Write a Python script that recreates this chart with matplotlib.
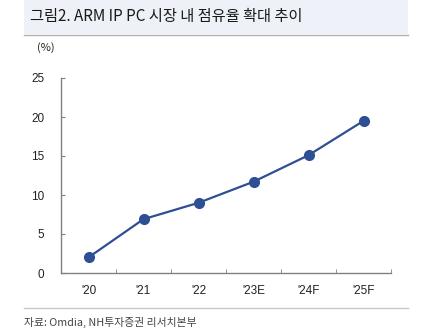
import matplotlib
matplotlib.use('Agg')
from matplotlib import pyplot as plt
from matplotlib.patches import Rectangle
from matplotlib.lines import Line2D

plt.rcParams['font.family'] = ['Noto Sans CJK KR', 'DejaVu Sans']

years = ["'20", "'21", "'22", "'23E", "'24F", "'25F"]
share = [2.0, 6.9, 9.0, 11.7, 15.1, 19.5]
yticks = [0, 5, 10, 15, 20, 25]

W, H = 429, 333
fig = plt.figure(figsize=(W / 100, H / 100), dpi=100)

# title band
fig.patches.append(Rectangle((24 / W, 1 - 34 / H), 384 / W, 34 / H, transform=fig.transFigure,
                             facecolor='#eef1f7', edgecolor='none', zorder=0))
fig.add_artist(Line2D([24 / W, 408 / W], [1 - 35 / H, 1 - 35 / H], color='#b0b0b0', lw=1))
fig.text(30 / W, 1 - 17 / H, '그림2. ARM IP PC 시장 내 점유율 확대 추이', fontsize=11,
         va='center', ha='left', color='#1a1a1a')

ax = fig.add_axes([61 / W, 1 - 273 / H, 330 / W, 195 / H])
x = list(range(len(years)))
ax.plot(x, share, color='#2f4f94', lw=1.6, marker='o', markersize=7, zorder=3)

ax.set_xlim(-0.5, len(years) - 0.5)
ax.set_ylim(0, 25)
ax.set_yticks(yticks)
ax.set_yticklabels([str(v) for v in yticks], family=['Liberation Sans', 'DejaVu Sans'], fontsize=8.5)
ax.set_xticks(x)
ax.set_xticklabels(years, family=['Liberation Sans', 'DejaVu Sans'], fontsize=8.5)
ax.set_xticks([i - 0.5 for i in range(len(years) + 1)], minor=True)
ax.tick_params(axis='x', which='major', length=0, pad=9, colors='#222222')
ax.tick_params(axis='x', which='minor', direction='in', length=3, color='#808080')
ax.tick_params(axis='y', direction='in', length=3, color='#808080', pad=12, colors='#222222')
for s in ['top', 'right']:
    ax.spines[s].set_visible(False)
for s in ['left', 'bottom']:
    ax.spines[s].set_color('#808080')
    ax.spines[s].set_linewidth(1)

fig.text(37 / W, 1 - 48 / H, '(%)', fontsize=8, va='center', ha='left', color='#222222')

# source line
fig.add_artist(Line2D([24 / W, 408 / W], [1 - 308 / H, 1 - 308 / H], color='#c8c8c8', lw=1))
fig.text(24 / W, 1 - 322 / H, '자료: Omdia, NH투자증권 리서치본부', fontsize=7.8,
         va='center', ha='left', color='#444444')

fig.savefig('out.png', dpi=100)
